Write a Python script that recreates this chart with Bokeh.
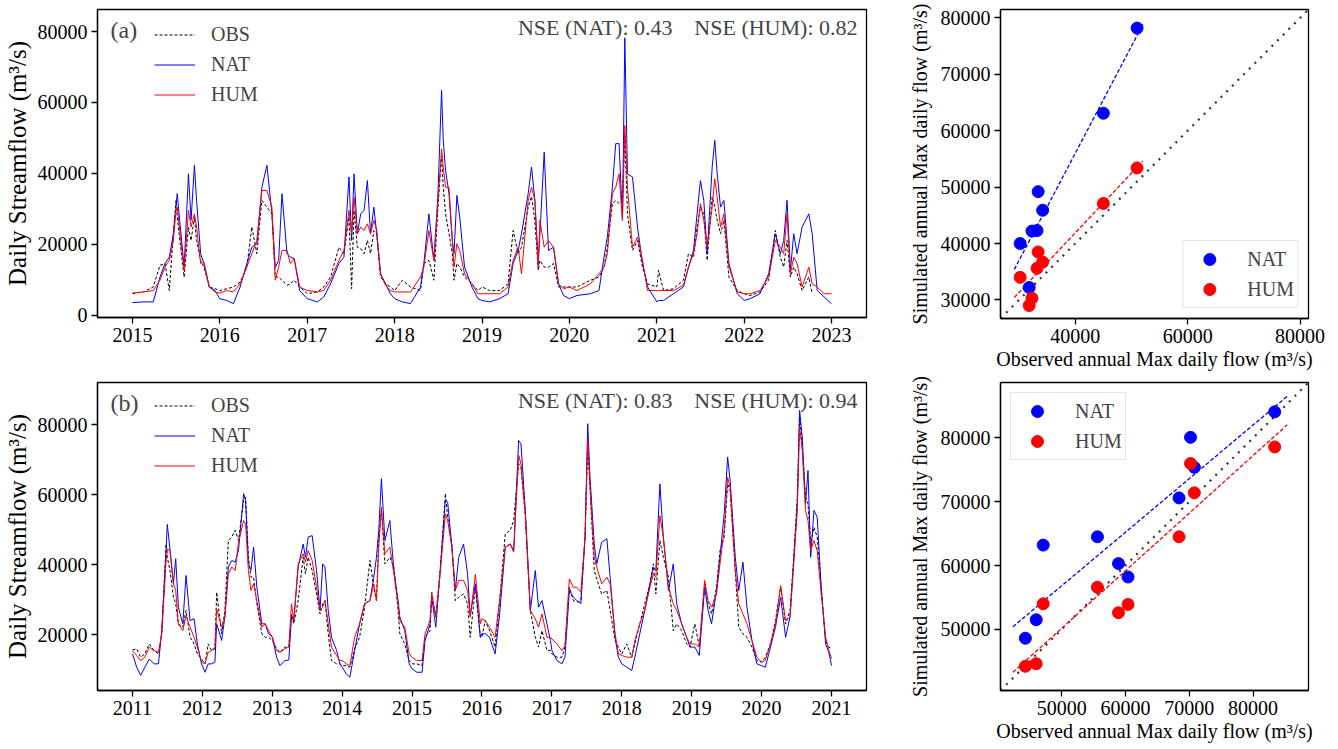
import numpy as np
import pandas as pd
from bokeh.plotting import figure
from bokeh.layouts import row, column
from bokeh.models import Range1d, FixedTicker, Legend, Label, DatetimeTickFormatter
from bokeh.embed import file_html
from bokeh.resources import INLINE

FONT = "Liberation Serif"
NAN = float("nan")

# ---------------- Panel (a): daily streamflow 2015-2022 ----------------
a_dates = [
    "2015-01-01", "2015-02-16", "2015-03-29", "2015-04-26", "2015-05-17", "2015-06-04", "2015-06-21", "2015-07-02", "2015-07-07",
    "2015-08-05", "2015-08-23", "2015-09-03", "2015-09-17", "2015-09-26", "2015-10-13", "2015-10-27", "2015-11-18", "2015-12-12",
    "2016-01-01", "2016-01-30", "2016-02-27", "2016-03-26", "2016-04-23", "2016-05-14", "2016-06-04", "2016-06-25", "2016-07-16",
    "2016-08-06", "2016-08-20", "2016-09-03", "2016-09-17", "2016-10-08", "2016-10-22", "2016-11-07", "2016-11-30",
    "2017-01-01", "2017-02-12", "2017-03-11", "2017-04-08", "2017-05-13", "2017-06-03", "2017-06-24", "2017-07-05", "2017-07-15",
    "2017-07-29", "2017-08-12", "2017-08-26", "2017-09-09", "2017-09-22", "2017-10-06", "2017-10-18", "2017-11-03", "2017-11-24", "2017-12-14",
    "2018-01-01", "2018-02-02", "2018-03-08", "2018-04-19", "2018-05-03", "2018-05-24", "2018-06-14", "2018-07-01", "2018-07-16",
    "2018-07-23", "2018-08-02", "2018-08-16", "2018-08-30", "2018-09-06", "2018-09-18", "2018-09-30", "2018-10-20", "2018-11-20", "2018-12-15",
    "2019-01-01", "2019-02-02", "2019-03-16", "2019-04-20", "2019-05-11", "2019-06-01", "2019-06-15", "2019-07-13", "2019-07-27",
    "2019-08-10", "2019-08-24", "2019-08-31", "2019-09-18", "2019-10-06", "2019-10-27", "2019-11-17", "2019-12-08",
    "2020-01-01", "2020-02-02", "2020-03-29", "2020-05-04", "2020-05-25", "2020-06-08", "2020-06-29", "2020-07-13", "2020-07-27",
    "2020-08-10", "2020-08-20", "2020-08-31", "2020-09-21", "2020-10-12", "2020-11-02", "2020-11-23",
    "2021-01-01", "2021-01-08", "2021-01-29", "2021-03-11", "2021-04-22", "2021-05-13", "2021-06-03", "2021-06-18", "2021-07-02",
    "2021-07-16", "2021-07-30", "2021-08-20", "2021-08-31", "2021-09-10", "2021-09-24", "2021-10-08", "2021-10-29", "2021-12-03",
    "2022-01-01", "2022-01-26", "2022-03-08", "2022-04-13", "2022-05-11", "2022-06-01", "2022-06-15", "2022-06-29", "2022-07-13",
    "2022-07-27", "2022-08-10", "2022-08-31", "2022-09-28", "2022-10-12", "2022-11-02", "2022-12-01", "2023-01-01",
]
a_obs = [
    6100, 6600, 8000, 14100, 14600, 7000, 23000, 32400, 27700, 10800, 24900, 21100, 27700, 21100, 15500, 13600, 8000, 7500,
    7000, 7500, 8000, 9400, 13600, 24900, 17400, 32400, 30500, 28600, 10800, 10800, 9900, 8500, 8900, 9900, 8000,
    6100, 6600, 8000, 10800, 19200, 17400, 27700, 7500, 29600, 19200, 18800, 17400, 21100, 17400, 23900, 23000, 10800, 8900, 8000,
    7000, 9900, 8000, 7000, 14600, 15500, 9900, 30500, 45000, 36100, 28600, 23000, 17400, 9900, 14600, 13600, 10800, 8900, 7000,
    8000, 7000, 7000, 8900, 23900, 17400, 19200, 30500, 33500, 26800, 12700, 15500, 13600, 13600, 14600, 8000, 8000,
    8000, 8000, 9900, 10800, 13600, 19200, 31500, 32400, 31500, 32400, 51000, 28600, 18300, 21100, 13600, 8900,
    8000, 12700, 7000, 7500, 9900, 17400, 16400, 24900, 30500, 28600, 15500, 33400, 30500, 26800, 23000, 26800, 10800, 7000,
    6100, 5600, 6600, 9900, 23900, 16400, 13600, 21100, 10800, 13600, 11700, 7000, 10800, 6100, NAN, NAN, NAN,
]
a_nat = [
    3600, 3800, 3800, 10800, 14600, 16400, 23000, 30500, 34300, 13600, 39900, 26800, 42300, 32400, 17400, 14600, 8000, 7000,
    4700, 4200, 3300, 8000, 14600, 19200, 20200, 36100, 42300, 28600, 13600, 15500, 34300, 17400, 16400, 16000, 7000,
    4700, 3800, 5200, 8900, 14600, 16400, 39000, 21100, 39900, 23000, 28600, 29600, 38000, 23000, 30500, 23000, 11700, 8900, 6100,
    4700, 3800, 3300, 8000, 14600, 28600, 15500, 34300, 63400, 49300, 40800, 34300, 21100, 17400, 33800, 27700, 13600, 8000, 4700,
    4200, 3800, 4700, 6100, 14600, 18300, 23000, 34300, 41800, 32400, 14600, 23000, 46000, 18300, 19200, 8900, 5600,
    4700, 5600, 6100, 7000, 16400, 22100, 36100, 48400, 48400, 26800, 78200, 39900, 39000, 24900, 14600, 8000,
    3800, 4200, 4200, 6100, 8000, 13600, 18300, 28600, 38000, 32400, 17400, 41800, 49300, 39900, 30500, 32400, 14600, 6100,
    4200, 4700, 6100, 11700, 23000, 17400, 21100, 32400, 12700, 23000, 17400, 24900, 28600, 23000, 7000, 5200, 3300,
]
a_hum = [
    6300, 6600, 7000, 9900, 13600, 15500, 21100, 29600, 30500, 12700, 29600, 24900, 28600, 24900, 14600, 15000, 8000, 6600,
    6300, 7000, 6600, 8900, 13600, 17400, 21100, 35200, 35200, 30500, 9900, 13600, 18300, 18300, 14600, 16000, 8000,
    7000, 6600, 7000, 9900, 15500, 18300, 29600, 23000, 33300, 23000, 24900, 23900, 25800, 23000, 26800, 23900, 11700, 8500, 7000,
    6600, 6600, 6600, 10800, 13600, 23900, 15500, 32400, 46900, 41800, 36100, 36100, 21100, 13600, 20200, 18300, 11700, 8900, 6100,
    6100, 6100, 6100, 8000, 15500, 19200, 11700, 32400, 36100, 32400, 13600, 26800, 19200, 21100, 19200, 8900, 7500,
    8000, 7000, 8900, 11700, 13600, 17400, 34300, 36100, 39900, 26800, 53500, 36100, 19200, 22100, 15500, 7000,
    7000, 7000, 7000, 7000, 8500, 13600, 17400, 23000, 31500, 26800, 19200, 30500, 38500, 33300, 24900, 28600, 13600, 6600,
    6100, 6100, 7000, 10800, 21100, 19200, 17400, 28600, 11700, 16400, 14600, 8000, 13600, 8900, 8000, 6100, 6100,
]
a_years = list(range(2015, 2024))
a_yticks = [0, 20000, 40000, 60000, 80000]

# ---------------- Panel (b): daily streamflow 2011-2020 ----------------
b_dates = [
    "2011-01-01", "2011-01-23", "2011-02-13", "2011-03-07", "2011-03-30", "2011-04-24", "2011-05-17", "2011-06-03", "2011-06-26", "2011-07-02",
    "2011-07-16", "2011-08-03", "2011-08-15", "2011-08-29", "2011-09-21", "2011-10-08", "2011-10-29", "2011-11-19", "2011-12-06", "2011-12-28",
    "2012-01-15", "2012-02-01", "2012-02-19", "2012-03-07", "2012-03-16", "2012-04-11", "2012-04-28", "2012-05-16", "2012-06-03", "2012-06-21",
    "2012-07-08", "2012-08-04", "2012-08-14", "2012-08-29", "2012-09-11", "2012-09-25", "2012-10-12", "2012-11-07", "2012-11-25", "2012-12-12",
    "2013-01-01", "2013-01-23", "2013-02-10", "2013-03-07", "2013-03-28", "2013-04-11", "2013-04-23", "2013-05-16", "2013-06-11", "2013-06-23",
    "2013-07-07", "2013-07-28", "2013-08-20", "2013-09-07", "2013-09-21", "2013-10-03", "2013-10-20", "2013-11-06", "2013-12-03", "2013-12-20",
    "2014-01-01", "2014-01-23", "2014-02-10", "2014-03-07", "2014-04-02", "2014-04-28", "2014-05-26", "2014-06-15", "2014-06-29",
    "2014-07-11", "2014-07-25", "2014-08-12", "2014-09-07", "2014-09-28", "2014-10-20", "2014-10-29", "2014-11-24", "2014-12-17",
    "2015-01-01", "2015-01-26", "2015-02-22", "2015-03-10", "2015-04-05", "2015-04-14", "2015-05-05", "2015-05-28", "2015-06-24",
    "2015-07-06", "2015-07-28", "2015-08-15", "2015-09-02", "2015-09-27", "2015-10-18", "2015-11-01", "2015-11-28", "2015-12-24",
    "2016-01-01", "2016-01-18", "2016-02-10", "2016-03-10", "2016-04-02", "2016-05-02", "2016-05-28", "2016-06-15", "2016-07-11",
    "2016-07-23", "2016-08-15", "2016-09-10", "2016-10-06", "2016-10-23", "2016-11-10", "2016-12-06", "2016-12-24",
    "2017-01-01", "2017-01-27", "2017-02-22", "2017-03-10", "2017-04-02", "2017-04-23", "2017-05-11", "2017-06-01", "2017-06-23",
    "2017-07-07", "2017-07-19", "2017-08-10", "2017-08-23", "2017-09-18", "2017-10-15", "2017-11-01", "2017-11-27", "2017-12-14",
    "2018-01-01", "2018-01-27", "2018-02-22", "2018-03-10", "2018-04-05", "2018-05-01", "2018-05-28", "2018-06-15", "2018-06-28",
    "2018-07-19", "2018-08-06", "2018-09-02", "2018-09-27", "2018-10-15", "2018-11-10", "2018-12-06", "2018-12-23",
    "2019-01-18", "2019-02-10", "2019-03-10", "2019-03-28", "2019-04-15", "2019-05-11", "2019-05-29", "2019-06-20",
    "2019-07-08", "2019-07-21", "2019-08-17", "2019-09-04", "2019-09-26", "2019-10-17", "2019-11-12", "2019-12-08",
    "2020-01-01", "2020-01-21", "2020-02-17", "2020-03-14", "2020-04-10", "2020-05-06", "2020-05-29", "2020-06-15", "2020-07-06", "2020-07-18",
    "2020-08-01", "2020-08-18", "2020-08-31", "2020-09-14", "2020-10-01", "2020-10-18", "2020-11-08", "2020-12-01", "2020-12-18", "2021-01-01",
]
b_obs = [
    15600, 15900, 13500, 14450, 17300, 15400, 14450, 20200, 45900, 42100, 38300, 30700, 28800, 23000, 22100, 26900, 19200, 17300, 14450, 13000,
    11600, 17300, 15400, 15900, 32100, 20200, 26900, 46900, 47900, 49800, 46900, 58400, 59300, 42100, 36400, 36400, 28800, 20200, 19200, 19200,
    18300, 15900, 14900, 16400, 16400, 25900, 23050, 29700, 42100, 37400, 42100, 38300, 31600, 25900, 28800, 29700, 20200, 12550, 11600, 11600,
    11100, 11100, 10650, 15900, 19200, 27800, 41200, 33500, 29700, 47900, 55600, 40200, 42100, 39300, 26900, 20200, 17300, 12550,
    11600, 11600, 11100, 19200, 21100, 32100, 25000, 38300, 60300, 53600, 45900, 29700, 30700, 31600, 28800, 19200, 33500, 19200,
    19200, 24000, 21100, 16400, 28800, 48800, 49800, 52600, 68800, 67900, 53600, 26900, 19200, 16400, 21100, 15400, 15400,
    14450, 13500, 13500, 16400, 33500, 29700, 29300, 29700, 47900, 74600, 62200, 38300, 35900, 31600, 32600, 26900, 18300, 16400,
    14450, 17300, 13500, 17300, 23050, 28800, 34500, 40200, 31600, 46900, 42100, 36400, 21100, 23050, 21100, 17300, 16400,
    23050, 16400, 34500, 28800, 25900, 33500, 44000, 47900, 63100, 61200, 38300, 22100, 20200, 19200, 16400, 12550,
    12100, 13500, 17300, 24000, 33500, 23050, 26900, 40200, 59300, 83000, 73600, 59300, 57400, 45900, 50700, 47900, 33500, 18300, 16400, 16000,
]
b_nat = [
    14450, 10650, 8300, 10650, 13000, 11600, 11600, 21100, 44500, 51500, 44500, 34500, 41700, 27800, 23050, 36900, 24000, 24500, 17300, 11600,
    9200, 11600, 11600, 12100, 23050, 18300, 25000, 39300, 41200, 40700, 44000, 60300, 58400, 40200, 38300, 45000, 33500, 23050, 23050, 20200,
    19200, 13500, 11100, 12550, 12700, 25000, 24000, 39300, 45900, 42100, 47900, 48300, 38300, 26900, 40200, 39300, 26900, 19200, 15400, 11600,
    10650, 8700, 7800, 15400, 23050, 28800, 29700, 36400, 42100, 49800, 64600, 46900, 52600, 38300, 29700, 25000, 21100, 11600,
    10200, 9200, 9200, 18300, 23050, 30700, 22100, 38300, 58400, 57900, 45000, 32600, 42100, 45900, 37400, 25400, 34500, 19200,
    20200, 20200, 19200, 14450, 25400, 45000, 45900, 44000, 75500, 74600, 55500, 26900, 38300, 27800, 29700, 23050, 18300,
    15400, 12550, 11600, 13500, 32600, 30700, 29700, 28800, 47900, 80300, 65000, 45900, 40200, 46400, 47400, 36400, 19200, 13500,
    11600, 10650, 9700, 13500, 20200, 26900, 34500, 39300, 38300, 63100, 47900, 32600, 40200, 28800, 23050, 19200, 16400,
    16400, 14000, 33500, 26900, 23050, 32600, 42100, 54500, 70800, 64100, 42100, 32600, 40700, 27800, 18300, 11600,
    11100, 10650, 16400, 22100, 30700, 19200, 25000, 39300, 57400, 84100, 76500, 57400, 66900, 42100, 55500, 53600, 33500, 17300, 14900, 11100,
]
b_hum = [
    15400, 14000, 12550, 13500, 16400, 15400, 14900, 20200, 41200, 44500, 44000, 34500, 32600, 23000, 21100, 25400, 22100, 19200, 16400, 12100,
    11600, 14900, 15400, 16400, 27300, 22100, 25000, 37400, 39300, 38300, 46400, 52600, 51700, 38300, 32600, 34500, 29700, 22100, 23050, 21100,
    19200, 15400, 14900, 15900, 16400, 28800, 24000, 40200, 43100, 40700, 44000, 41200, 33500, 26900, 27800, 29700, 23050, 16400, 14000, 12550,
    12550, 11600, 11100, 19200, 23050, 28800, 29700, 34500, 29700, 45000, 56400, 43100, 45000, 37400, 28800, 24000, 22100, 14450,
    13500, 12550, 12550, 20200, 24000, 31600, 25000, 37400, 54500, 52600, 45000, 32600, 35500, 35500, 32600, 25000, 37200, 23050,
    24500, 24000, 22100, 19200, 29700, 45000, 45900, 43600, 71300, 68800, 54500, 26900, 24500, 22100, 25900, 19200, 19200,
    18700, 17300, 15400, 16800, 35900, 33500, 33500, 32100, 47900, 76000, 62200, 42100, 39300, 34500, 36400, 34500, 20200, 14450,
    14000, 13500, 13500, 18300, 23050, 26900, 33500, 37400, 36400, 54000, 47900, 33500, 28800, 26900, 23050, 19200, 17300,
    17300, 16400, 35500, 29700, 27800, 31600, 40200, 49800, 65000, 62200, 38300, 28800, 25900, 23050, 18300, 13500,
    12100, 12550, 17300, 23050, 34000, 24000, 25000, 38300, 55500, 79500, 72700, 55500, 52600, 44000, 46900, 44000, 31600, 19200, 15400, 13100,
]
b_years = list(range(2011, 2022))
b_yticks = [20000, 40000, 60000, 80000]

# ---------------- Scatter panels: annual maximum daily flow ----------------
sa_obs = [30200, 31800, 32300, 33200, 33400, 34200, 45000, 51000]
sa_nat = [40000, 32200, 42200, 42300, 49200, 45900, 63100, 78200]
sa_hum = [34000, 29000, 30300, 35600, 38500, 36700, 47100, 53400]
sa_xticks = [40000, 60000, 80000]
sa_yticks = [30000, 40000, 50000, 60000, 70000, 80000]

sb_obs = [44300, 46000, 47100, 55600, 58900, 60400, 68400, 70200, 70800, 83400]
sb_nat = [48600, 51500, 63200, 64500, 60300, 58200, 70600, 80100, 75400, 84100]
sb_hum = [44200, 44600, 54000, 56600, 52600, 53900, 64500, 76000, 71400, 78600]
sb_xticks = [50000, 60000, 70000, 80000]
sb_yticks = [50000, 60000, 70000, 80000]

BLUE = "#0000ff"
RED = "#ff0000"


def style_axes(p, tick_size="20px", label_size="20px"):
    p.grid.visible = False
    p.outline_line_color = "black"
    p.outline_line_width = 1.3
    p.background_fill_color = "white"
    p.border_fill_color = "white"
    for ax in p.axis:
        ax.axis_line_color = "black"
        ax.axis_line_width = 1.3
        ax.major_tick_out = 6
        ax.major_tick_in = 0
        ax.major_tick_line_width = 1.3
        ax.major_tick_line_color = "black"
        ax.minor_tick_line_color = None
        ax.major_label_text_font = FONT
        ax.major_label_text_font_size = tick_size
        ax.major_label_text_color = "black"
        ax.major_label_standoff = 4
        ax.axis_label_text_font = FONT
        ax.axis_label_text_font_size = label_size
        ax.axis_label_text_font_style = "normal"
        ax.axis_label_text_color = "black"


def ts_panel(dates, obs, nat, hum, height, top, bottom, ylo, yhi, yticks, years, tag, nse_nat, nse_hum, leg_y):
    x = pd.to_datetime(pd.Series(dates))
    span = x.max() - x.min()
    x0 = (x.min() - 0.05 * span).to_pydatetime()
    x1 = (x.max() + 0.05 * span).to_pydatetime()
    p = figure(width=900, height=height, x_axis_type="datetime",
               x_range=Range1d(x0, x1), y_range=Range1d(ylo, yhi),
               output_backend="svg", toolbar_location=None,
               min_border_left=97, min_border_right=34,
               min_border_top=top, min_border_bottom=bottom)
    style_axes(p)
    p.xaxis.ticker = FixedTicker(ticks=[pd.Timestamp(f"{y}-01-01").value / 1e6 for y in years])
    p.xaxis.formatter = DatetimeTickFormatter(years="%Y", months="%Y", days="%Y", hours="%Y",
                                              hourmin="%Y", minutes="%Y", minsec="%Y", seconds="%Y",
                                              milliseconds="%Y", microseconds="%Y")
    p.yaxis.ticker = FixedTicker(ticks=yticks)
    p.yaxis.axis_label = "Daily Streamflow (m\u00b3/s)"
    p.yaxis.axis_label_text_font_size = "25px"
    p.yaxis.axis_label_standoff = 4

    xs = list(x)
    r_obs = p.line(xs, obs, line_color="black", line_dash="3 2", line_width=1)
    r_nat = p.line(xs, nat, line_color=BLUE, line_width=1)
    r_hum = p.line(xs, hum, line_color=RED, line_width=1)

    leg = Legend(items=[("OBS", [r_obs]), ("NAT", [r_nat]), ("HUM", [r_hum])],
                 location=(57, leg_y), border_line_color=None, background_fill_alpha=0,
                 padding=0, margin=0, glyph_width=41, glyph_height=21, label_height=21,
                 label_standoff=16, spacing=7, label_text_font=FONT, label_text_font_size="20px")
    p.add_layout(leg)

    fh = height - top - bottom
    p.add_layout(Label(x=13, y=fh - 20, x_units="screen", y_units="screen", text=tag,
                       text_font=FONT, text_font_size="24px", text_baseline="middle"))
    p.add_layout(Label(x=760, y=fh - 17.5, x_units="screen", y_units="screen", text=nse_hum,
                       text_font=FONT, text_font_size="22px", text_baseline="middle", text_align="right"))
    p.add_layout(Label(x=575, y=fh - 17.5, x_units="screen", y_units="screen", text=nse_nat,
                       text_font=FONT, text_font_size="22px", text_baseline="middle", text_align="right"))
    return p


def sc_panel(obs, nat, hum, height, top, bottom, lo, hi, xticks, yticks, leg_loc):
    p = figure(width=438, height=height, x_range=Range1d(lo, hi), y_range=Range1d(lo, hi),
               output_backend="svg", toolbar_location=None,
               min_border_left=100, min_border_right=30,
               min_border_top=top, min_border_bottom=bottom)
    style_axes(p, tick_size="20px", label_size="20px")
    p.xaxis.ticker = FixedTicker(ticks=xticks)
    p.yaxis.ticker = FixedTicker(ticks=yticks)
    p.xaxis.axis_label = "Observed annual Max daily flow (m\u00b3/s)"
    p.yaxis.axis_label = "Simulated annual Max daily flow (m\u00b3/s)"
    p.xaxis.axis_label_standoff = 2
    p.yaxis.axis_label_standoff = 7

    # 1:1 line
    p.line([lo, hi], [lo, hi], line_color="#333333", line_width=2.2, line_dash="2 6")
    # linear fits
    o = np.array(obs, dtype=float)
    rng = o.max() - o.min()
    fx = np.array([o.min() - 0.05 * rng, o.max() + 0.05 * rng])
    for vals, col in ((nat, BLUE), (hum, RED)):
        k, b = np.polyfit(o, np.array(vals, dtype=float), 1)
        p.line(fx, k * fx + b, line_color=col, line_width=1.3, line_dash="4 2")
    r_nat = p.scatter(obs, nat, size=12, fill_color=BLUE, line_color=BLUE)
    r_hum = p.scatter(obs, hum, size=12, fill_color=RED, line_color=RED)

    leg = Legend(items=[("NAT", [r_nat]), ("HUM", [r_hum])], location=leg_loc,
                 border_line_color="#cccccc", border_line_width=1, background_fill_color="white",
                 background_fill_alpha=0.8, padding=3, margin=10, glyph_width=46, glyph_height=30,
                 label_height=30, label_standoff=15, spacing=0,
                 label_text_font=FONT, label_text_font_size="20px")
    p.add_layout(leg)
    return p


pa = ts_panel(a_dates, a_obs, a_nat, a_hum, 370, 9, 53, -600, 86200, a_yticks, a_years,
              "(a)", "NSE (NAT): 0.43", "NSE (HUM): 0.82", 211)
pb = ts_panel(b_dates, b_obs, b_nat, b_hum, 379, 12, 59, 3980, 92100, b_yticks, b_years,
              "(b)", "NSE (NAT): 0.83", "NSE (HUM): 0.94", 213)
sa = sc_panel(sa_obs, sa_nat, sa_hum, 375, 9, 57, 26700, 81500, sa_xticks, sa_yticks, "bottom_right")
sb = sc_panel(sb_obs, sb_nat, sb_hum, 374, 7, 59, 40400, 88700, sb_xticks, sb_yticks, "top_left")

layout = row(column(pa, pb), column(sa, sb))
open("out.html", "w").write(file_html(layout, INLINE))
